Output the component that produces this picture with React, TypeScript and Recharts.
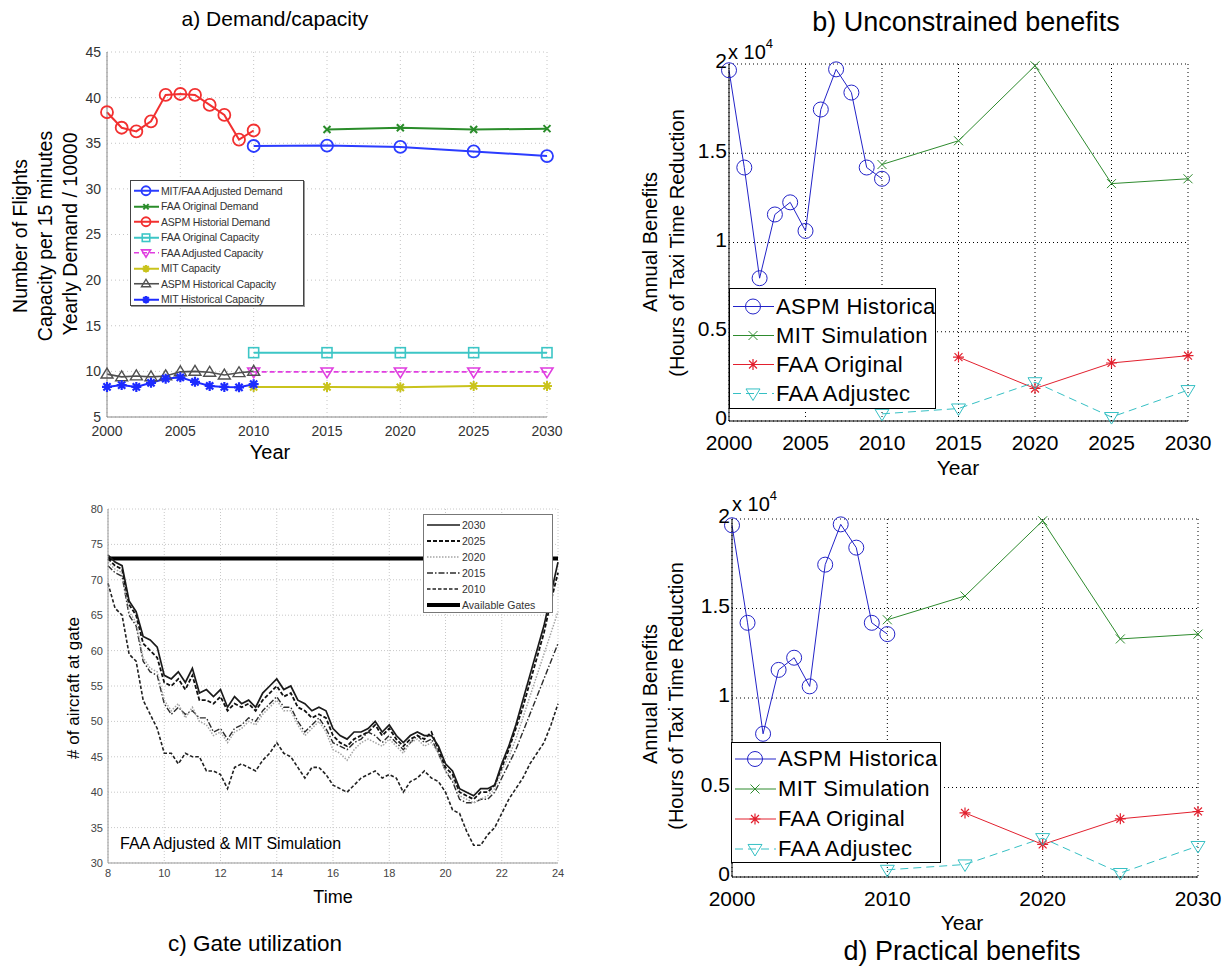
import React from "react";
import { CartesianGrid, Legend, Line, LineChart, ReferenceLine, XAxis, YAxis } from "recharts";

const FONT = "'Liberation Sans', Arial, Helvetica, sans-serif";

// ---- a) demand / capacity ----
const HIST_YEARS = [2000, 2001, 2002, 2003, 2004, 2005, 2006, 2007, 2008, 2009, 2010];
const PLAN_YEARS = [2010, 2015, 2020, 2025, 2030];
const FAA_YEARS = [2015, 2020, 2025, 2030];
const ASPM_DEMAND = [38.4, 36.7, 36.3, 37.4, 40.3, 40.4, 40.3, 39.2, 38.1, 35.4, 36.4];
const ADJ_DEMAND = [34.7, 34.75, 34.6, 34.1, 33.6];
const FAA_DEMAND = [36.5, 36.7, 36.5, 36.6];
const FAA_ORIG_CAP = [12.05, 12.05, 12.05, 12.05, 12.05];
const FAA_ADJ_CAP = [9.95, 9.95, 9.95, 9.95, 9.95];
const MIT_CAP = [8.3, 8.3, 8.25, 8.4, 8.4];
const ASPM_CAP = [9.7, 9.4, 9.5, 9.4, 9.5, 9.95, 10.0, 9.9, 9.6, 9.85, 10.0];
const MIT_HIST_CAP = [8.3, 8.5, 8.3, 8.75, 9.2, 9.35, 8.85, 8.4, 8.3, 8.25, 8.6];
const A_XTICKS = [2000, 2005, 2010, 2015, 2020, 2025, 2030];
const A_YTICKS = [5, 10, 15, 20, 25, 30, 35, 40, 45];

// ---- b) / d) benefits (x 10^4 hours) ----
const ASPM_BEN = [1.965, 1.42, 0.8, 1.157, 1.225, 1.065, 1.745, 1.97, 1.84, 1.42, 1.357];
const MIT_SIM = [1.437, 1.57, 1.99, 1.33, 1.357];
const FAA_ORIG_BEN = [0.358, 0.182, 0.325, 0.366];
const FAA_ADJ_BEN = [0.04, 0.07, 0.217, 0.022, 0.173];
const B_XTICKS = [2000, 2005, 2010, 2015, 2020, 2025, 2030];
const D_XTICKS = [2000, 2010, 2020, 2030];
const BEN_YTICKS = [0, 0.5, 1, 1.5, 2];

// ---- c) gate utilization ----
const HOURS = [
  8, 8.25, 8.5, 8.75, 9, 9.25, 9.5, 9.75, 10, 10.25, 10.5, 10.75, 11, 11.25, 11.5, 11.75,
  12, 12.25, 12.5, 12.75, 13, 13.25, 13.5, 13.75, 14, 14.25, 14.5, 14.75, 15, 15.25, 15.5, 15.75,
  16, 16.25, 16.5, 16.75, 17, 17.25, 17.5, 17.75, 18, 18.25, 18.5, 18.75, 19, 19.25, 19.5, 19.75,
  20, 20.25, 20.5, 20.75, 21, 21.25, 21.5, 21.75, 22, 22.25, 22.5, 22.75, 23, 23.25, 23.5, 23.75, 24,
];
const G2030 = [
  73.5, 72.5, 72.0, 67.0, 65.5, 62.0, 61.5, 60.5, 56.5, 56.0, 57.0, 55.5, 57.5, 54.0, 54.5, 53.5,
  54.5, 52.0, 53.5, 52.5, 53.0, 52.0, 54.0, 55.0, 56.0, 54.5, 55.0, 53.0, 52.5, 51.5, 52.0, 51.5,
  49.0, 48.0, 47.5, 48.5, 48.5, 49.0, 50.0, 48.5, 49.5, 48.0, 47.0, 48.0, 48.5, 48.0, 48.0, 46.5,
  44.0, 43.0, 40.5, 40.0, 39.5, 40.5, 40.5, 41.0, 44.0, 46.5, 49.5, 53.0, 56.5, 60.0, 63.5, 68.0, 72.5,
];
const G2025 = [
  73.0, 72.0, 71.5, 66.5, 65.0, 61.0, 60.0, 59.0, 55.5, 55.0, 56.0, 54.5, 56.5, 53.0, 53.0, 52.5,
  53.5, 51.5, 52.5, 52.0, 52.5, 51.5, 53.0, 54.0, 55.0, 53.5, 54.0, 52.0, 51.5, 50.5, 51.0, 50.5,
  48.0, 47.0, 46.5, 47.5, 48.0, 48.5, 49.5, 48.0, 49.0, 47.5, 46.5, 47.5, 48.0, 47.5, 48.5, 46.0,
  43.5, 42.5, 40.0, 39.5, 39.0, 40.0, 40.0, 41.0, 43.5, 46.0, 49.0, 52.0, 55.5, 59.0, 62.5, 67.0, 71.0,
];
const G2020 = [
  72.5, 71.5, 71.0, 65.5, 64.0, 59.0, 57.5, 57.0, 53.0, 51.5, 52.5, 50.5, 52.0, 50.0, 49.5, 48.0,
  48.5, 47.0, 48.5, 49.0, 50.0, 49.5, 51.0, 52.0, 53.0, 51.5, 51.5, 49.5, 48.0, 49.0, 50.0, 48.5,
  46.0, 45.5, 44.5, 46.0, 47.0, 47.5, 47.0, 46.5, 47.5, 46.5, 45.5, 47.0, 47.5, 46.5, 47.0, 45.5,
  43.0, 42.0, 39.5, 39.0, 38.5, 39.0, 39.5, 40.5, 43.0, 45.0, 47.5, 50.5, 53.5, 56.5, 59.5, 62.5, 65.5,
];
const G2015 = [
  72.0, 71.0, 70.5, 65.0, 63.5, 58.5, 57.0, 56.5, 52.5, 51.0, 52.0, 51.0, 51.5, 50.5, 50.5, 48.5,
  49.0, 47.5, 49.0, 49.5, 50.5, 50.0, 51.5, 52.5, 53.5, 52.0, 52.0, 50.0, 48.5, 49.5, 50.5, 49.0,
  47.0, 46.5, 46.0, 47.0, 47.5, 48.5, 48.0, 47.0, 48.0, 47.0, 46.0, 47.0, 48.0, 47.0, 47.5, 45.5,
  43.0, 41.5, 39.0, 38.5, 38.5, 39.0, 39.0, 40.0, 42.0, 44.0, 46.0, 48.5, 51.0, 53.5, 56.0, 58.5, 61.0,
];
const G2010 = [
  69.5, 66.0, 65.0, 59.5, 58.5, 53.0, 51.0, 49.0, 45.5, 45.5, 44.0, 45.5, 45.0, 45.0, 43.0, 43.0,
  42.5, 40.5, 43.5, 44.0, 43.5, 43.0, 44.5, 45.5, 47.0, 45.5, 45.0, 43.5, 42.0, 43.5, 43.5, 42.5,
  41.0, 40.5, 40.0, 41.0, 42.0, 42.5, 43.0, 42.0, 42.5, 42.0, 40.0, 41.5, 42.0, 43.0, 42.0, 41.5,
  40.0, 37.5, 37.0, 34.5, 32.5, 32.5, 34.0, 35.0, 37.0, 39.0, 40.5, 42.0, 44.0, 45.5, 47.0, 49.5, 52.5,
];
const AVAILABLE_GATES = 73;
const C_XTICKS = [8, 10, 12, 14, 16, 18, 20, 22, 24];
const C_YTICKS = [30, 35, 40, 45, 50, 55, 60, 65, 70, 75, 80];

const pts = (xs: number[], ys: number[]) => xs.map((x, i) => ({ x, y: ys[i] }));
const C_ROWS = HOURS.map((t, i) => ({
  t,
  y2030: G2030[i],
  y2025: G2025[i],
  y2020: G2020[i],
  y2015: G2015[i],
  y2010: G2010[i],
}));

type Series = {
  name: string;
  data?: { x: number; y: number }[];
  key?: string;
  color: string;
  width: number;
  shape?: string;
  size?: number;
  msw?: number;
  dash?: string;
};

const A_SERIES: Series[] = [
  { name: "MIT/FAA Adjusted Demand", data: pts(PLAN_YEARS, ADJ_DEMAND), color: "#2b3cff", width: 2, shape: "o", size: 12, msw: 1.8 },
  { name: "FAA Original Demand", data: pts(FAA_YEARS, FAA_DEMAND), color: "#2a8c2a", width: 2, shape: "x", size: 7, msw: 2 },
  { name: "ASPM Historial Demand", data: pts(HIST_YEARS, ASPM_DEMAND), color: "#f23030", width: 2, shape: "o", size: 12, msw: 1.8 },
  { name: "FAA Original Capacity", data: pts(PLAN_YEARS, FAA_ORIG_CAP), color: "#3cc6c6", width: 2, shape: "s", size: 10, msw: 1.6 },
  { name: "FAA Adjusted Capacity", data: pts(PLAN_YEARS, FAA_ADJ_CAP), color: "#e03ee0", width: 1.6, shape: "v", size: 12, msw: 1.6, dash: "5 3" },
  { name: "MIT Capacity", data: pts(PLAN_YEARS, MIT_CAP), color: "#c9c31c", width: 2, shape: "*", size: 10, msw: 2 },
  { name: "ASPM Historical Capacity", data: pts(HIST_YEARS, ASPM_CAP), color: "#505050", width: 1.6, shape: "^", size: 12, msw: 1.4 },
  { name: "MIT Historical Capacity", data: pts(HIST_YEARS, MIT_HIST_CAP), color: "#1d2bff", width: 2, shape: "*", size: 10, msw: 2.2 },
];

// legend labels as printed (cut short by the legend box in the original figure)
const BEN_SERIES: Series[] = [
  { name: "ASPM Historica", data: pts(HIST_YEARS, ASPM_BEN), color: "#2323c8", width: 1, shape: "o", size: 15, msw: 1 },
  { name: "MIT Simulation", data: pts(PLAN_YEARS, MIT_SIM), color: "#2e8b2e", width: 1, shape: "x", size: 9, msw: 1 },
  { name: "FAA Original", data: pts(FAA_YEARS, FAA_ORIG_BEN), color: "#e2202e", width: 1, shape: "*", size: 11, msw: 1.2 },
  { name: "FAA Adjustec", data: pts(PLAN_YEARS, FAA_ADJ_BEN), color: "#36c0c4", width: 1, shape: "v", size: 14, msw: 1, dash: "8 5" },
];

const C_SERIES: Series[] = [
  { name: "2030", key: "y2030", color: "#1a1a1a", width: 1.7 },
  { name: "2025", key: "y2025", color: "#111111", width: 1.8, dash: "4 2" },
  { name: "2020", key: "y2020", color: "#a5a5a5", width: 1.5, dash: "1.5 1.5" },
  { name: "2015", key: "y2015", color: "#2c2c2c", width: 1.4, dash: "6 2 1.5 2" },
  { name: "2010", key: "y2010", color: "#222222", width: 1.6, dash: "3.5 2" },
];
const C_LEGEND: Series[] = [...C_SERIES, { name: "Available Gates", color: "#000", width: 4 }];

function Marker({ shape, cx, cy, color, size, sw = 1 }: any) {
  if (cx == null || cy == null) return null;
  const r = size / 2;
  if (shape === "o") return <circle cx={cx} cy={cy} r={r} fill="none" stroke={color} strokeWidth={sw} />;
  if (shape === "s")
    return <rect x={cx - r} y={cy - r} width={size} height={size} fill="none" stroke={color} strokeWidth={sw} />;
  if (shape === "v")
    return (
      <polygon
        points={`${cx - r},${cy - r * 0.65} ${cx + r},${cy - r * 0.65} ${cx},${cy + r}`}
        fill="none"
        stroke={color}
        strokeWidth={sw}
      />
    );
  if (shape === "^")
    return (
      <polygon
        points={`${cx - r},${cy + r * 0.65} ${cx + r},${cy + r * 0.65} ${cx},${cy - r}`}
        fill="none"
        stroke={color}
        strokeWidth={sw}
      />
    );
  if (shape === "x")
    return (
      <path
        d={`M${cx - r},${cy - r}L${cx + r},${cy + r}M${cx - r},${cy + r}L${cx + r},${cy - r}`}
        stroke={color}
        strokeWidth={sw}
      />
    );
  const d = r * 0.72;
  return (
    <path
      d={`M${cx - r},${cy}L${cx + r},${cy}M${cx},${cy - r}L${cx},${cy + r}M${cx - d},${cy - d}L${cx + d},${cy + d}M${cx - d},${cy + d}L${cx + d},${cy - d}`}
      stroke={color}
      strokeWidth={sw}
    />
  );
}

const dotFor = (s: Series) => (p: any) =>
  <Marker key={`${s.name}-${p.index}`} shape={s.shape} cx={p.cx} cy={p.cy} color={s.color} size={s.size} sw={s.msw} />;

function LegendBox({ items, w, h, rowH, pad, sampleW, fontSize, color, border, shadow, markerScale = 1, letterSpacing = 0 }: any) {
  return (
    <div
      style={{
        width: w,
        height: h,
        boxSizing: "border-box",
        border,
        boxShadow: shadow,
        background: "#fff",
        paddingTop: pad,
        overflow: "hidden",
        fontFamily: FONT,
        fontSize,
        color,
        letterSpacing,
      }}
    >
      {items.map((s: Series) => (
        <div key={s.name} style={{ display: "flex", alignItems: "center", height: rowH, whiteSpace: "nowrap" }}>
          <svg width={sampleW} height={rowH} style={{ flex: "none" }}>
            <line
              x1={3}
              x2={sampleW - 2}
              y1={rowH / 2}
              y2={rowH / 2}
              stroke={s.color}
              strokeWidth={s.width}
              strokeDasharray={s.dash}
            />
            {s.shape && (
              <Marker
                shape={s.shape}
                cx={sampleW / 2}
                cy={rowH / 2}
                color={s.color}
                size={(s.size || 0) * markerScale}
                sw={s.msw}
              />
            )}
          </svg>
          <span>{s.name}</span>
        </div>
      ))}
    </div>
  );
}

function Txt({ x, y, size, rotate = 0, children, color = "#000" }: any) {
  return (
    <div
      style={{
        position: "absolute",
        left: x,
        top: y,
        transform: `translate(-50%, -50%) rotate(${rotate}deg)`,
        fontSize: size,
        fontFamily: FONT,
        color,
        whiteSpace: "nowrap",
        lineHeight: 1,
      }}
    >
      {children}
    </div>
  );
}

function Exp({ x, y }: { x: number; y: number }) {
  return (
    <div style={{ position: "absolute", left: x, top: y, fontFamily: FONT, fontSize: 20, lineHeight: 1, whiteSpace: "nowrap" }}>
      x 10<span style={{ fontSize: 13, position: "relative", top: -11 }}>4</span>
    </div>
  );
}

function PanelA() {
  const tick = { fontSize: 14, fill: "#333", fontFamily: FONT };
  return (
    <div style={{ position: "absolute", left: 0, top: 0 }}>
      <LineChart width={600} height={480} margin={{ top: 52, right: 53, bottom: 33, left: 67 }}>
        <CartesianGrid stroke="#c4c4c4" strokeDasharray="1 3" />
        <XAxis dataKey="x" type="number" domain={[2000, 2030]} ticks={A_XTICKS} interval={0} height={30} tick={tick} tickLine={false} tickMargin={3} axisLine={{ stroke: "#888" }} />
        <YAxis type="number" domain={[5, 45]} ticks={A_YTICKS} interval={0} width={40} tick={tick} tickLine={false} tickSize={4} tickMargin={2} axisLine={{ stroke: "#888" }} />
        <XAxis xAxisId="top" orientation="top" type="number" domain={[2000, 2030]} tick={false} tickLine={false} height={0} axisLine={{ stroke: "#888" }} />
        <YAxis yAxisId="right" orientation="right" type="number" domain={[5, 45]} tick={false} tickLine={false} width={0} axisLine={{ stroke: "#888" }} />
        {A_SERIES.map((s) => (
          <Line
            key={s.name}
            data={s.data}
            dataKey="y"
            name={s.name}
            type="linear"
            stroke={s.color}
            strokeWidth={s.width}
            strokeDasharray={s.dash}
            dot={dotFor(s)}
            activeDot={false}
            isAnimationActive={false}
          />
        ))}
        <Legend
          layout="vertical"
          align="center"
          verticalAlign="middle"
          wrapperStyle={{ left: 130, top: 180 }}
          content={() => (
            <LegendBox
              items={A_SERIES}
              w={174}
              h={126}
              rowH={15.5}
              pad={2}
              sampleW={30}
              fontSize={10.5}
              color="#333"
              border="1px solid #444"
              shadow="1px 1px 0 #999"
              markerScale={0.75}
              letterSpacing={-0.2}
            />
          )}
        />
      </LineChart>
    </div>
  );
}

function BenefitPanel({ left, top, height, margin, xticks, legendPos, rowH, pad }: any) {
  const tick = { fontSize: 21, fill: "#000", fontFamily: FONT };
  return (
    <div style={{ position: "absolute", left, top }}>
      <LineChart width={627} height={height} margin={margin}>
        <CartesianGrid stroke="#000" strokeDasharray="1 3" />
        <XAxis dataKey="x" type="number" domain={[2000, 2030]} ticks={xticks} interval={0} height={35} tick={tick} tickLine={false} tickSize={8} tickMargin={6} axisLine={{ stroke: "#000" }} />
        <YAxis type="number" domain={[0, 2]} ticks={BEN_YTICKS} interval={0} width={40} tick={{ ...tick, dy: -3 }} tickLine={false} tickSize={0} tickMargin={2} axisLine={{ stroke: "#000" }} />
        <XAxis xAxisId="top" orientation="top" type="number" domain={[2000, 2030]} tick={false} tickLine={false} height={0} axisLine={{ stroke: "#000" }} />
        <YAxis yAxisId="right" orientation="right" type="number" domain={[0, 2]} tick={false} tickLine={false} width={0} axisLine={{ stroke: "#000" }} />
        {BEN_SERIES.map((s) => (
          <Line
            key={s.name}
            data={s.data}
            dataKey="y"
            name={s.name}
            type="linear"
            stroke={s.color}
            strokeWidth={s.width}
            strokeDasharray={s.dash}
            dot={dotFor(s)}
            activeDot={false}
            isAnimationActive={false}
          />
        ))}
        <Legend
          layout="vertical"
          align="center"
          verticalAlign="middle"
          wrapperStyle={{ left: legendPos.left, top: legendPos.top }}
          content={() => (
            <LegendBox
              items={BEN_SERIES}
              w={legendPos.w}
              h={121}
              rowH={rowH}
              pad={pad}
              sampleW={46}
              fontSize={22}
              color="#000"
              border="1px solid #000"
              letterSpacing={0.4}
            />
          )}
        />
      </LineChart>
    </div>
  );
}

function PanelC() {
  const tick = { fontSize: 11, fill: "#444", fontFamily: FONT };
  return (
    <div style={{ position: "absolute", left: 0, top: 480 }}>
      <LineChart width={600} height={488} data={C_ROWS} margin={{ top: 29, right: 42, bottom: 80, left: 68 }}>
        <CartesianGrid stroke="#c8c8c8" strokeDasharray="1 2" />
        <XAxis dataKey="t" type="number" domain={[8, 24]} ticks={C_XTICKS} interval={0} height={25} tick={tick} tickLine={false} tickSize={4} tickMargin={2} axisLine={{ stroke: "#999" }} />
        <YAxis type="number" domain={[30, 80]} ticks={C_YTICKS} interval={0} width={40} tick={tick} tickLine={false} tickSize={3} tickMargin={2} axisLine={{ stroke: "#999" }} />
        <XAxis xAxisId="top" orientation="top" type="number" domain={[8, 24]} tick={false} tickLine={false} height={0} axisLine={{ stroke: "#999" }} />
        <YAxis yAxisId="right" orientation="right" type="number" domain={[30, 80]} tick={false} tickLine={false} width={0} axisLine={{ stroke: "#999" }} />
        <ReferenceLine y={AVAILABLE_GATES} stroke="#000" strokeWidth={4} />
        {[...C_SERIES].reverse().map((s) => (
          <Line
            key={s.name}
            dataKey={s.key}
            name={s.name}
            type="linear"
            stroke={s.color}
            strokeWidth={s.width}
            strokeDasharray={s.dash}
            dot={false}
            activeDot={false}
            isAnimationActive={false}
          />
        ))}
        <Legend
          layout="vertical"
          align="center"
          verticalAlign="middle"
          wrapperStyle={{ left: 423, top: 34 }}
          content={() => (
            <LegendBox
              items={C_LEGEND}
              w={130}
              h={99}
              rowH={16}
              pad={2}
              sampleW={38}
              fontSize={10.5}
              color="#333"
              border="1px solid #777"
            />
          )}
        />
      </LineChart>
    </div>
  );
}

export default function App() {
  return (
    <div style={{ position: "absolute", left: 0, top: 0, width: 1227, height: 968, background: "#fff", overflow: "hidden" }}>
      <PanelA />
      <BenefitPanel
        left={600}
        top={0}
        height={480}
        margin={{ top: 64, right: 39, bottom: 24, left: 89 }}
        xticks={B_XTICKS}
        legendPos={{ left: 129, top: 288, w: 207 }}
        rowH={29}
        pad={3}
      />
      <PanelC />
      <BenefitPanel
        left={600}
        top={480}
        height={488}
        margin={{ top: 39, right: 29, bottom: 56, left: 92 }}
        xticks={D_XTICKS}
        legendPos={{ left: 131, top: 262, w: 210 }}
        rowH={30}
        pad={1}
      />

      <Txt x={275} y={18} size={21}>a) Demand/capacity</Txt>
      <Txt x={21} y={236} size={19.5} rotate={-90}>Number of Flights</Txt>
      <Txt x={46} y={236} size={19.5} rotate={-90}>Capacity per 15 minutes</Txt>
      <Txt x={71} y={234} size={19.5} rotate={-90}>Yearly Demand / 10000</Txt>
      <Txt x={270} y={452} size={20}>Year</Txt>

      <Txt x={966} y={22} size={27}>b) Unconstrained benefits</Txt>
      <Exp x={728} y={42} />
      <Txt x={650} y={242} size={20} rotate={-90}>Annual Benefits</Txt>
      <Txt x={677} y={243} size={20} rotate={-90}>(Hours of Taxi Time Reduction</Txt>
      <Txt x={958} y={467} size={21}>Year</Txt>

      <Txt x={73} y={688} size={17} rotate={-90}># of aircraft at gate</Txt>
      <Txt x={333} y={897} size={18}>Time</Txt>
      <div style={{ position: "absolute", left: 120, top: 836, fontFamily: FONT, fontSize: 16, lineHeight: 1, whiteSpace: "nowrap" }}>
        FAA Adjusted &amp; MIT Simulation
      </div>
      <Txt x={255} y={944} size={22.5}>c) Gate utilization</Txt>

      <Exp x={732} y={494} />
      <Txt x={650} y={694} size={20} rotate={-90}>Annual Benefits</Txt>
      <Txt x={676} y={696} size={20} rotate={-90}>(Hours of Taxi Time Reduction</Txt>
      <Txt x={962} y={922} size={21}>Year</Txt>
      <Txt x={962} y={951} size={27}>d) Practical benefits</Txt>
    </div>
  );
}
